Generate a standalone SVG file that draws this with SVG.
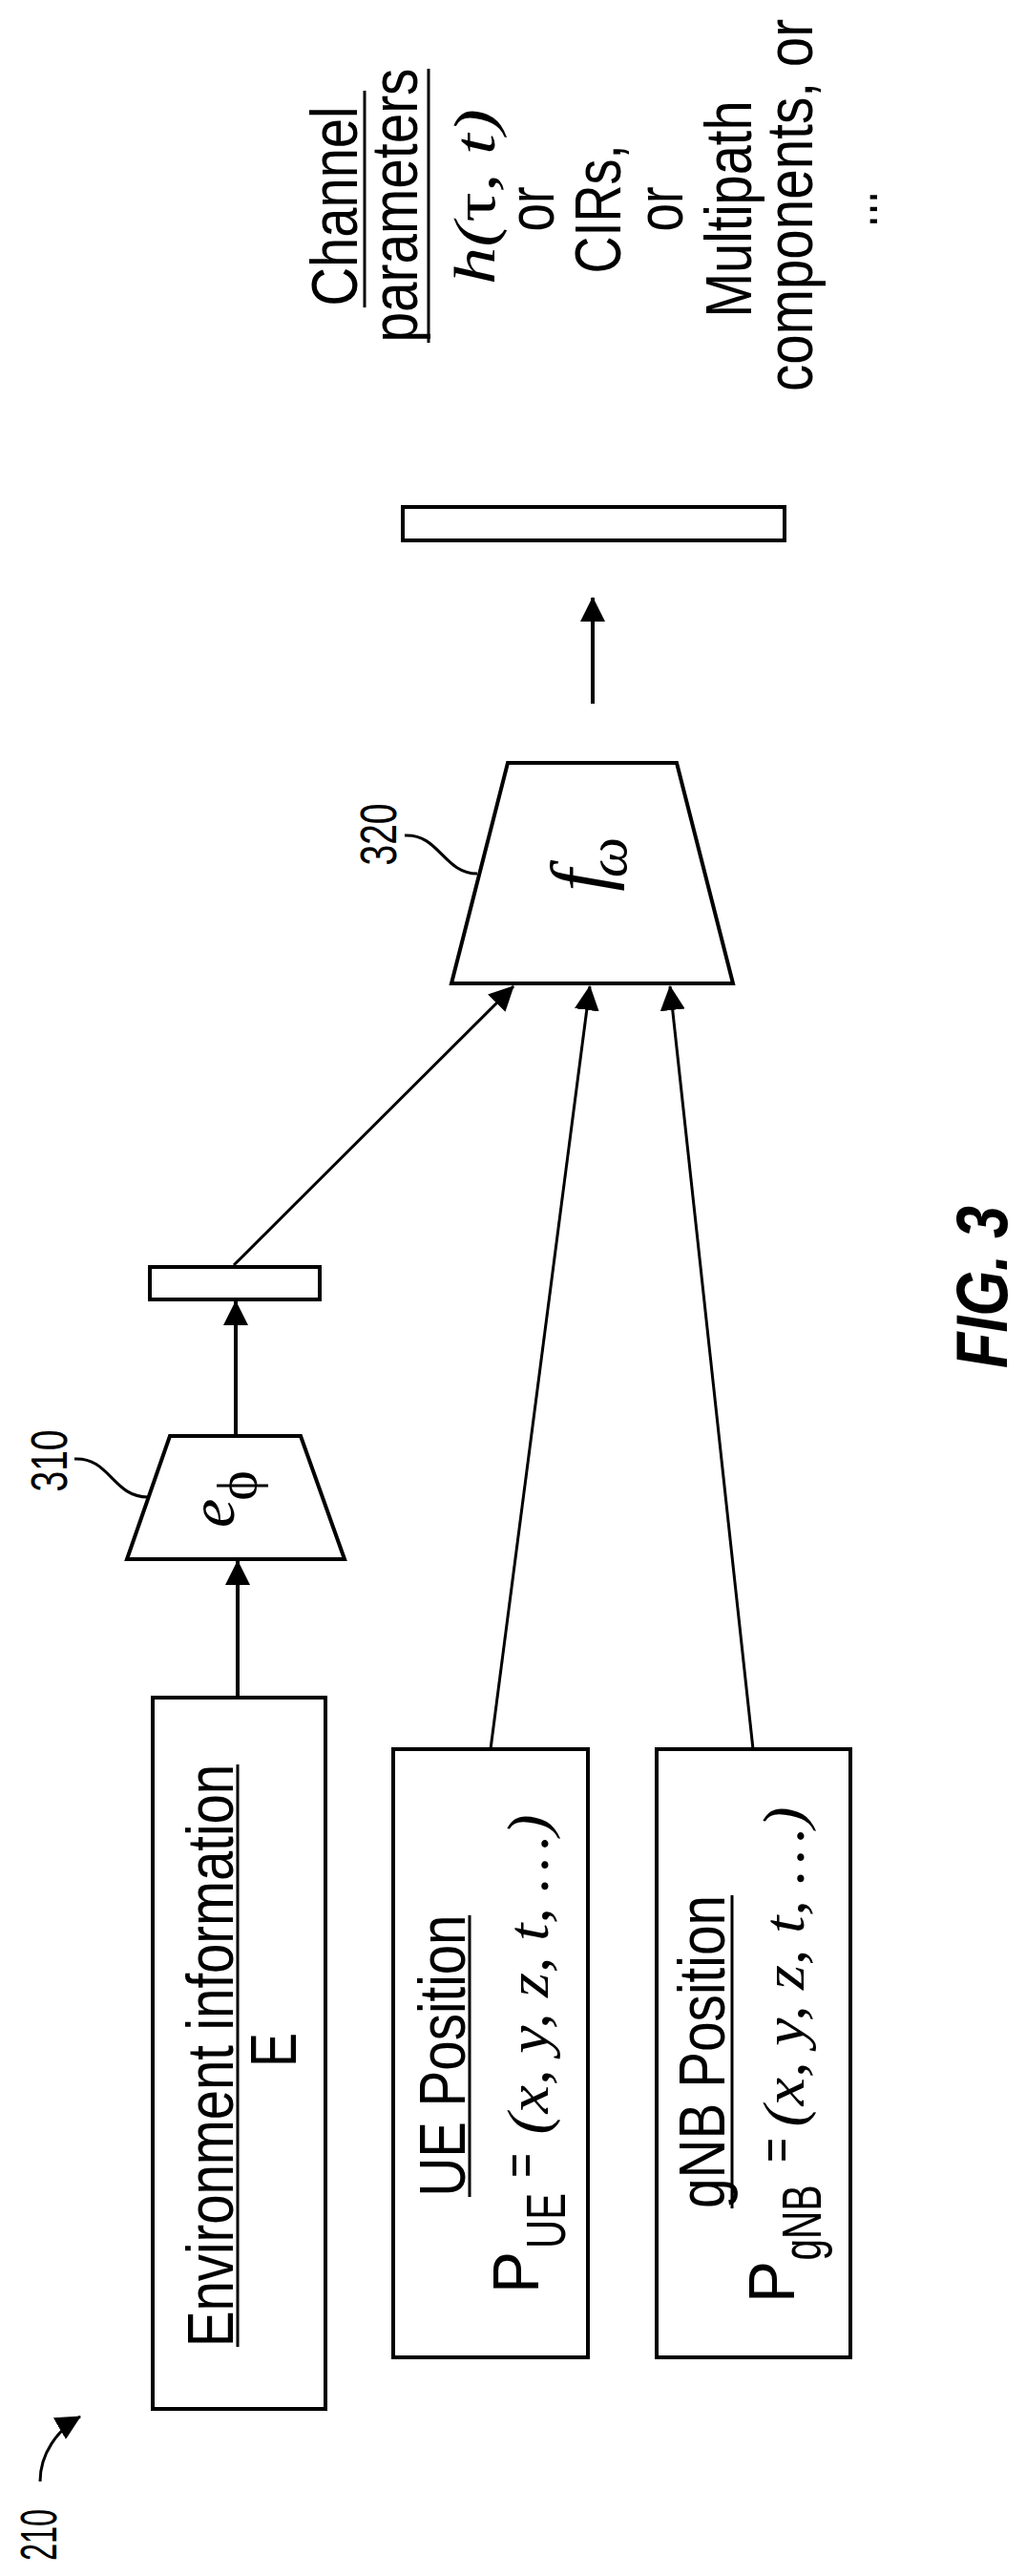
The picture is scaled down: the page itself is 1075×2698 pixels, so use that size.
<svg xmlns="http://www.w3.org/2000/svg" width="1075" height="2698" viewBox="0 0 1075 2698">
<defs>
<marker id="ah" markerUnits="userSpaceOnUse" markerWidth="26" markerHeight="26" refX="25" refY="13" orient="auto"><path d="M0,0 L26,13 L0,26 z" fill="#000"/></marker>
<style>
.box{fill:#fff;stroke:#000;stroke-width:4}
.ln{fill:none;stroke:#000;stroke-width:4}
.thin{fill:none;stroke:#000;stroke-width:3}
.t{font-family:"Liberation Sans Narrow","Liberation Sans",Arial,sans-serif;font-size:68px;fill:#000}
.m{font-family:"Liberation Serif","Times New Roman",serif;font-style:italic;fill:#000}
.lab{font-family:"Liberation Sans Narrow","Liberation Sans",Arial,sans-serif;font-size:54px;fill:#000}
</style>
</defs>
<g id="connectors">
<line class="ln" x1="249" y1="1778" x2="249" y2="1635" marker-end="url(#ah)"/>
<line class="ln" x1="247" y1="1504" x2="247" y2="1363" marker-end="url(#ah)"/>
<line class="thin" x1="245" y1="1325" x2="538" y2="1033" marker-end="url(#ah)"/>
<line class="thin" x1="514" y1="1832" x2="618" y2="1033" marker-end="url(#ah)"/>
<line class="thin" x1="789" y1="1832" x2="702" y2="1033" marker-end="url(#ah)"/>
<line class="ln" x1="621" y1="737" x2="621" y2="626" marker-end="url(#ah)"/>
<path class="thin" d="M78,1528 C115,1526 118,1568 155,1568"/>
<path class="thin" d="M424,875 C460,873 465,915 500,915"/>
<path class="thin" d="M42,2599 C42,2570 60,2545 84,2531" marker-end="url(#ah)"/>
</g>
<g id="env">
<rect class="box" x="160" y="1778" width="181" height="745"/>
<text class="t" transform="translate(244,2153) rotate(-90)" text-anchor="middle" textLength="610" lengthAdjust="spacingAndGlyphs">Environment information</text>
<line x1="249" y1="1848" x2="249" y2="2458" stroke="#000" stroke-width="3"/>
<text class="t" transform="translate(310,2147) rotate(-90)" text-anchor="middle" textLength="36" lengthAdjust="spacingAndGlyphs">E</text>
</g>
<g id="ue">
<rect class="box" x="412" y="1832" width="204" height="637"/>
<text class="t" transform="translate(487,2153) rotate(-90)" text-anchor="middle" textLength="295" lengthAdjust="spacingAndGlyphs">UE Position</text>
<line x1="492" y1="2006" x2="492" y2="2301" stroke="#000" stroke-width="3"/>
<text class="t" transform="translate(564,2380) rotate(-90)" text-anchor="middle" textLength="44" lengthAdjust="spacingAndGlyphs">P</text>
<text class="t" style="font-size:58px" transform="translate(592,2326) rotate(-90)" text-anchor="middle" textLength="58" lengthAdjust="spacingAndGlyphs">UE</text>
<text class="t" style="font-size:56px" transform="translate(564,2268) rotate(-90)" text-anchor="middle" textLength="26" lengthAdjust="spacingAndGlyphs">=</text>
<text class="m" style="font-size:62px" transform="translate(574,2068) rotate(-90)" text-anchor="middle" textLength="335" lengthAdjust="spacingAndGlyphs">(x, y, z, t, …)</text>
</g>
<g id="gnb">
<rect class="box" x="688" y="1832" width="203" height="637"/>
<text class="t" transform="translate(759,2149) rotate(-90)" text-anchor="middle" textLength="328" lengthAdjust="spacingAndGlyphs">gNB Position</text>
<line x1="767" y1="1985" x2="767" y2="2313" stroke="#000" stroke-width="3"/>
<text class="t" transform="translate(832,2390) rotate(-90)" text-anchor="middle" textLength="44" lengthAdjust="spacingAndGlyphs">P</text>
<text class="t" style="font-size:58px" transform="translate(860,2328) rotate(-90)" text-anchor="middle" textLength="79" lengthAdjust="spacingAndGlyphs">gNB</text>
<text class="t" style="font-size:56px" transform="translate(832,2252) rotate(-90)" text-anchor="middle" textLength="26" lengthAdjust="spacingAndGlyphs">=</text>
<text class="m" style="font-size:62px" transform="translate(842,2060) rotate(-90)" text-anchor="middle" textLength="335" lengthAdjust="spacingAndGlyphs">(x, y, z, t, …)</text>
</g>
<g id="n310">
<path class="box" d="M178,1504 L315,1504 L361,1633 L133,1633 Z"/>
<text class="m" style="font-size:68px" transform="translate(245,1585) rotate(-90)" text-anchor="middle">e</text>
<text class="m" style="font-size:60px;font-style:normal" transform="translate(268,1556) rotate(-90)" text-anchor="middle">ϕ</text>
<text class="lab" transform="translate(70,1530) rotate(-90)" text-anchor="middle" textLength="65" lengthAdjust="spacingAndGlyphs">310</text>
</g>
<g id="bar1">
<rect class="box" x="157" y="1327" width="178" height="34"/>
</g>
<g id="n320">
<path class="box" d="M532,799 L709,799 L768,1030 L473,1030 Z"/>
<text class="m" style="font-size:84px" transform="translate(636,922) rotate(-90)" text-anchor="middle">f</text>
<text class="m" style="font-size:60px" transform="translate(656,898) rotate(-90)" text-anchor="middle">ω</text>
<text class="lab" transform="translate(415,874) rotate(-90)" text-anchor="middle" textLength="65" lengthAdjust="spacingAndGlyphs">320</text>
</g>
<g id="bar2">
<rect class="box" x="422" y="531" width="400" height="35"/>
</g>
<g id="output">
<text class="t" transform="translate(374,216) rotate(-90)" text-anchor="middle" textLength="209" lengthAdjust="spacingAndGlyphs">Channel</text>
<line x1="382" y1="95" x2="382" y2="322" stroke="#000" stroke-width="3"/>
<text class="t" transform="translate(437,215) rotate(-90)" text-anchor="middle" textLength="287" lengthAdjust="spacingAndGlyphs">parameters</text>
<line x1="449" y1="72" x2="449" y2="359" stroke="#000" stroke-width="3"/>
<text class="m" style="font-size:62px" transform="translate(518,206) rotate(-90)" text-anchor="middle" textLength="184" lengthAdjust="spacingAndGlyphs">h(<tspan style="font-style:normal">τ</tspan>, t)</text>
<text class="t" transform="translate(580,219) rotate(-90)" text-anchor="middle" textLength="47" lengthAdjust="spacingAndGlyphs">or</text>
<text class="t" transform="translate(650,219) rotate(-90)" text-anchor="middle" textLength="135" lengthAdjust="spacingAndGlyphs">CIRs,</text>
<text class="t" transform="translate(715,219) rotate(-90)" text-anchor="middle" textLength="47" lengthAdjust="spacingAndGlyphs">or</text>
<text class="t" transform="translate(787,219) rotate(-90)" text-anchor="middle" textLength="227" lengthAdjust="spacingAndGlyphs">Multipath</text>
<text class="t" transform="translate(851,215) rotate(-90)" text-anchor="middle" textLength="390" lengthAdjust="spacingAndGlyphs">components, or</text>
<text class="t" transform="translate(919,219) rotate(-90)" text-anchor="middle" textLength="38" lengthAdjust="spacingAndGlyphs">...</text>
</g>
<g id="labels">
<text class="lab" transform="translate(59,2655) rotate(-90)" text-anchor="middle" textLength="54" lengthAdjust="spacingAndGlyphs">210</text>
<text class="t" style="font-size:76px;font-weight:bold;font-style:italic" transform="translate(1055,1348) rotate(-90)" text-anchor="middle" textLength="170" lengthAdjust="spacingAndGlyphs">FIG. 3</text>
</g>
</svg>
